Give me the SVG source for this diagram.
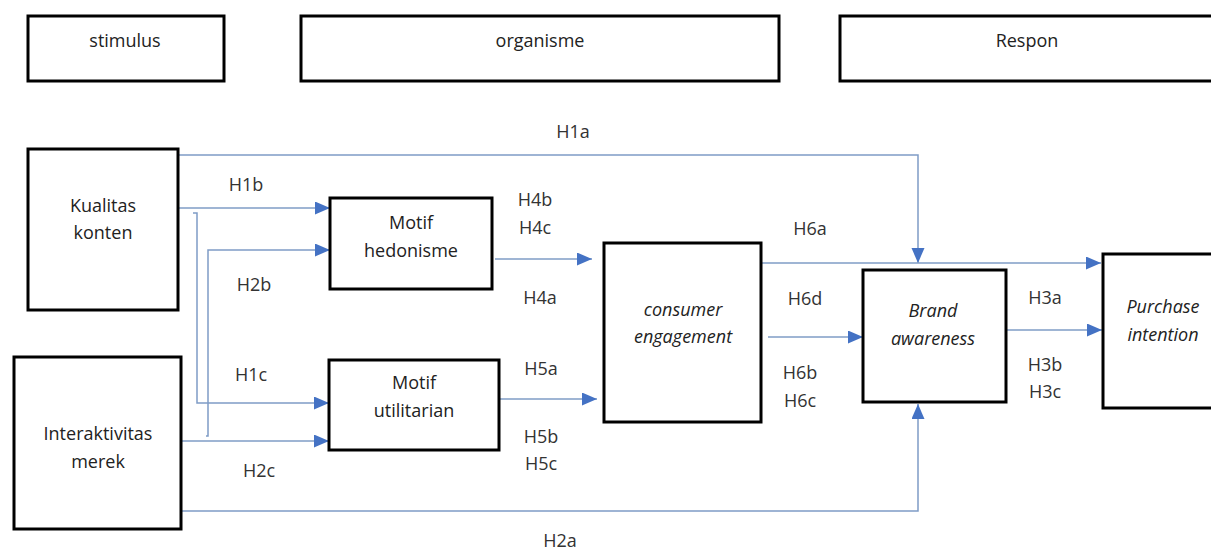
<svg xmlns="http://www.w3.org/2000/svg" width="1211" height="550" viewBox="0 0 1211 550">
  <style>
    .box { fill: #ffffff; stroke: #000000; stroke-width: 3; }
    .t { font-family: "Open Sans", "Liberation Sans", sans-serif; font-size: 18px; fill: #222222; text-anchor: middle; }
    .it { font-style: italic; }
    .lbl { font-family: "Open Sans", "Liberation Sans", sans-serif; font-size: 18px; fill: #333333; text-anchor: middle; }
    .link { fill: none; stroke: #7f9cc6; stroke-width: 1.5; }
    .arr { marker-end: url(#head); }
  </style>
  <defs>
    <marker id="head" markerUnits="userSpaceOnUse" markerWidth="16" markerHeight="14" refX="15" refY="6.5" orient="auto">
      <path d="M0,0 L15,6.5 L0,13 z" fill="#4472c4"/>
    </marker>
  </defs>
  <rect width="1211" height="550" fill="#ffffff"/>

  <!-- stage headers -->
  <g id="stimulus">
    <rect class="box" x="28" y="16" width="196" height="65"/>
    <text class="t" x="125" y="47">stimulus</text>
  </g>
  <g id="organisme">
    <rect class="box" x="301" y="16" width="478" height="65"/>
    <text class="t" x="540" y="47">organisme</text>
  </g>
  <g id="respon">
    <rect class="box" x="840" y="16" width="380" height="65"/>
    <text class="t" x="1027" y="47">Respon</text>
  </g>

  <!-- connectors -->
  <g id="connectors">
    <path class="link arr" d="M178,155 H918 V263"/>
    <path class="link arr" d="M178,208 H330"/>
    <path class="link arr" d="M193,213 H197 V403 H329"/>
    <path class="link arr" d="M206,436 H208 V250 H330"/>
    <path class="link arr" d="M181,441 H329"/>
    <path class="link arr" d="M181,511 H918 V404"/>
    <path class="link arr" d="M495,259 H592"/>
    <path class="link arr" d="M500,399 H597"/>
    <path class="link arr" d="M761,263 H1101"/>
    <path class="link arr" d="M768,337 H863"/>
    <path class="link arr" d="M1006,330 H1102"/>
  </g>

  <!-- hypothesis labels -->
  <g id="labels">
    <text class="lbl" x="573" y="138">H1a</text>
    <text class="lbl" x="246" y="191">H1b</text>
    <text class="lbl" x="254" y="291">H2b</text>
    <text class="lbl" x="251" y="381">H1c</text>
    <text class="lbl" x="259" y="477">H2c</text>
    <text class="lbl" x="560" y="547">H2a</text>
    <text class="lbl" x="535" y="206">H4b</text>
    <text class="lbl" x="535" y="234">H4c</text>
    <text class="lbl" x="540" y="304">H4a</text>
    <text class="lbl" x="541" y="375">H5a</text>
    <text class="lbl" x="541" y="443">H5b</text>
    <text class="lbl" x="541" y="470">H5c</text>
    <text class="lbl" x="810" y="235">H6a</text>
    <text class="lbl" x="805" y="305">H6d</text>
    <text class="lbl" x="800" y="379">H6b</text>
    <text class="lbl" x="800" y="407">H6c</text>
    <text class="lbl" x="1045" y="304">H3a</text>
    <text class="lbl" x="1045" y="371">H3b</text>
    <text class="lbl" x="1045" y="398">H3c</text>
  </g>

  <!-- variables -->
  <g id="kualitas-konten">
    <rect class="box" x="28" y="149" width="150" height="161"/>
    <text class="t" x="103" y="212">Kualitas</text>
    <text class="t" x="103" y="239">konten</text>
  </g>
  <g id="interaktivitas-merek">
    <rect class="box" x="14" y="357" width="167" height="172"/>
    <text class="t" x="98" y="440">Interaktivitas</text>
    <text class="t" x="98" y="468">merek</text>
  </g>
  <g id="motif-hedonisme">
    <rect class="box" x="330" y="198" width="162" height="91"/>
    <text class="t" x="411" y="229">Motif</text>
    <text class="t" x="411" y="257">hedonisme</text>
  </g>
  <g id="motif-utilitarian">
    <rect class="box" x="329" y="360" width="170" height="90"/>
    <text class="t" x="414" y="389">Motif</text>
    <text class="t" x="414" y="417">utilitarian</text>
  </g>
  <g id="consumer-engagement">
    <rect class="box" x="604" y="243" width="157" height="179"/>
    <text class="t it" x="683" y="316">consumer</text>
    <text class="t it" x="683" y="343">engagement</text>
  </g>
  <g id="brand-awareness">
    <rect class="box" x="863" y="270" width="143" height="132"/>
    <text class="t it" x="933" y="317">Brand</text>
    <text class="t it" x="933" y="345">awareness</text>
  </g>
  <g id="purchase-intention">
    <rect class="box" x="1103" y="254" width="130" height="154"/>
    <text class="t it" x="1163" y="313">Purchase</text>
    <text class="t it" x="1163" y="341">intention</text>
  </g>
</svg>
